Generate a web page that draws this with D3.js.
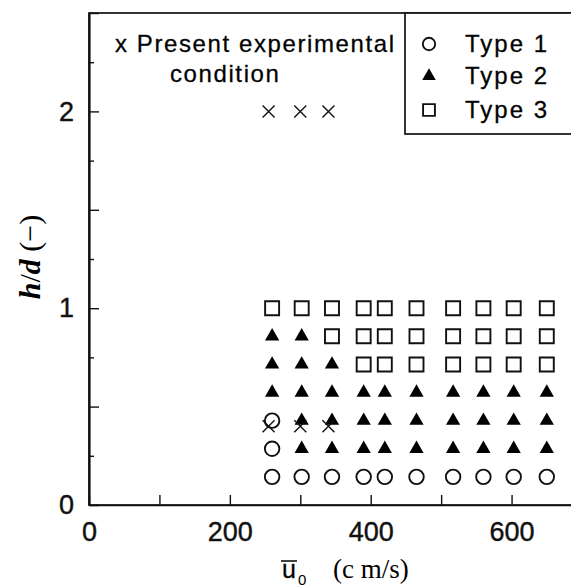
<!DOCTYPE html>
<html>
<head>
<meta charset="utf-8">
<script src="https://cdn.jsdelivr.net/npm/d3@7"></script>
<style>
  body { margin: 0; background: #fff; }
  svg { display: block; }
</style>
</head>
<body>
<div id="viz"></div>
<script>
var width = 571;
var height = 587;

// u0 (cm/s) of each measured column
var u0 = [260, 302, 345, 390, 420, 465, 517, 560, 603, 650];
// h/d of each row, bottom to top
var hd = [1/7, 2/7, 3/7, 4/7, 5/7, 6/7, 1];
// flow type per row (1 circle, 2 triangle, 3 square), one char per column
var types = [
  '1111111111',
  '1222222222',
  '1222222222',
  '2222222222',
  '2223333333',
  '2233333333',
  '3333333333'
];
// present experimental condition (x marks)
var presentU = [255, 300, 340];
var presentHd = [0.4, 2];

var xTicks = [0, 100, 200, 300, 400, 500, 600, 700];
var xLabels = [0, 200, 400, 600];
var yMajor = [0, 0.5, 1, 1.5, 2, 2.5];
var yMinor = [0.25, 0.75, 1.25, 1.75, 2.25];
var yLabels = [0, 1, 2];
var legendNames = ['Type 1', 'Type 2', 'Type 3'];

var x = d3.scaleLinear().domain([0, 700]).range([89, 582]);
var y = d3.scaleLinear().domain([0, 2.5]).range([505, 13]);

var svg = d3.select('#viz').append('svg')
  .attr('width', width)
  .attr('height', height);

var sans = 'Liberation Sans, Arial, Helvetica, sans-serif';
var serif = 'Liberation Serif, Times New Roman, serif';

// frame
svg.append('rect')
  .attr('x', x(0)).attr('y', y(2.5))
  .attr('width', x(700) - x(0)).attr('height', y(0) - y(2.5))
  .style('fill', 'none').style('stroke', '#111').style('stroke-width', 1.7);

// axes
var xAxis = svg.append('g')
  .attr('transform', 'translate(0,' + y(0) + ')')
  .call(d3.axisBottom(x).tickValues(xTicks).tickSizeInner(-10).tickSizeOuter(0).tickPadding(17)
    .tickFormat(function (d) { return xLabels.indexOf(d) >= 0 ? d : ''; }));

var yAxis = svg.append('g')
  .attr('transform', 'translate(' + x(0) + ',0)')
  .call(d3.axisLeft(y).tickValues(yMajor).tickSizeInner(-10).tickSizeOuter(0).tickPadding(15)
    .tickFormat(function (d) { return yLabels.indexOf(d) >= 0 ? d : ''; }));

var yMinorAxis = svg.append('g')
  .attr('transform', 'translate(' + x(0) + ',0)')
  .call(d3.axisLeft(y).tickValues(yMinor).tickSizeInner(-5).tickSizeOuter(0).tickFormat(''));

svg.selectAll('.domain').style('stroke', '#111').style('stroke-width', 1.7);
svg.selectAll('.tick line').style('stroke', '#111').style('stroke-width', 1.4);
svg.selectAll('.tick text')
  .style('font-family', sans).style('font-size', '27px').style('fill', '#111')
  .style('stroke', '#111').style('stroke-width', 0.4);

// axis titles
var xt = svg.append('g');
xt.append('text')
  .attr('x', 282).attr('y', 578)
  .style('font-family', sans).style('font-size', '25px')
  .style('stroke', '#111').style('stroke-width', 0.3)
  .text('u');
xt.append('line')
  .attr('x1', 281).attr('x2', 297).attr('y1', 561).attr('y2', 561)
  .style('stroke', '#111').style('stroke-width', 1.6);
xt.append('text')
  .attr('x', 298).attr('y', 585)
  .style('font-family', sans).style('font-size', '15px')
  .text('0');
xt.append('text')
  .attr('x', 333).attr('y', 578)
  .style('font-family', serif).style('font-size', '27px')
  .text('(c m/s)');

var yt = svg.append('text')
  .attr('transform', 'translate(40,257) rotate(-90)')
  .attr('text-anchor', 'middle')
  .style('font-family', serif).style('font-size', '30px');
yt.append('tspan').style('font-style', 'italic').style('font-weight', 'bold').text('h');
yt.append('tspan').text('/');
yt.append('tspan').style('font-style', 'italic').style('font-weight', 'bold').text('d');
yt.append('tspan').text(' (−)');

// symbols
var symbolFor = {
  '1': d3.symbol().type(d3.symbolCircle).size(165),
  '2': d3.symbol().type(d3.symbolTriangle).size(88),
  '3': d3.symbol().type(d3.symbolSquare).size(196)
};

function styleSym(sel, t) {
  if (t === '2') {
    sel.style('fill', '#000').style('stroke', 'none');
  } else {
    sel.style('fill', 'none').style('stroke', '#111').style('stroke-width', 1.9);
  }
}

var cells = [];
types.forEach(function (row, i) {
  row.split('').forEach(function (t, j) {
    cells.push({ u: u0[j], h: hd[i], type: t });
  });
});

svg.append('g').selectAll('path')
  .data(cells).enter()
  .append('path')
  .attr('transform', function (d) {
    return 'translate(' + x(d.u) + ',' + y(d.h) + ')';
  })
  .attr('d', function (d) { return symbolFor[d.type](); })
  .each(function (d) { styleSym(d3.select(this), d.type); });

var present = [];
presentHd.forEach(function (h) {
  presentU.forEach(function (u) { present.push({ u: u, h: h }); });
});

svg.append('g').selectAll('path')
  .data(present).enter()
  .append('path')
  .attr('transform', function (d) {
    return 'translate(' + x(d.u) + ',' + y(d.h) + ')';
  })
  .attr('d', 'M-6,-6L6,6M-6,6L6,-6')
  .style('fill', 'none').style('stroke', '#111').style('stroke-width', 1.4);

// legend
svg.append('rect')
  .attr('x', 405).attr('y', y(2.5))
  .attr('width', 200).attr('height', 134 - y(2.5))
  .style('fill', '#fff').style('stroke', '#111').style('stroke-width', 1.7);

var legRows = [52, 84, 118];
var legTypes = { '1': d3.symbolCircle, '2': d3.symbolTriangle, '3': d3.symbolSquare };
var legSizes = { '1': 120, '2': 80, '3': 140 };

var leg = svg.append('g').selectAll('g')
  .data(legendNames).enter()
  .append('g')
  .attr('transform', function (d, i) { return 'translate(0,' + legRows[i] + ')'; });

leg.append('path')
  .attr('transform', 'translate(429,-8)')
  .attr('d', function (d, i) {
    var t = String(i + 1);
    return d3.symbol().type(legTypes[t]).size(legSizes[t])();
  })
  .each(function (d, i) { styleSym(d3.select(this), String(i + 1)); });

leg.append('text')
  .attr('x', 465)
  .style('font-family', sans).style('font-size', '24px').style('letter-spacing', '2px')
  .style('stroke', '#111').style('stroke-width', 0.3)
  .text(function (d) { return d; });

// note
svg.append('text')
  .attr('x', 115).attr('y', 52)
  .style('font-family', sans).style('font-size', '24px').style('letter-spacing', '1.6px')
  .style('stroke', '#111').style('stroke-width', 0.3)
  .text('x Present experimental');
svg.append('text')
  .attr('x', 170).attr('y', 82)
  .style('font-family', sans).style('font-size', '24px').style('letter-spacing', '1.6px')
  .style('stroke', '#111').style('stroke-width', 0.3)
  .text('condition');
</script>
</body>
</html>
